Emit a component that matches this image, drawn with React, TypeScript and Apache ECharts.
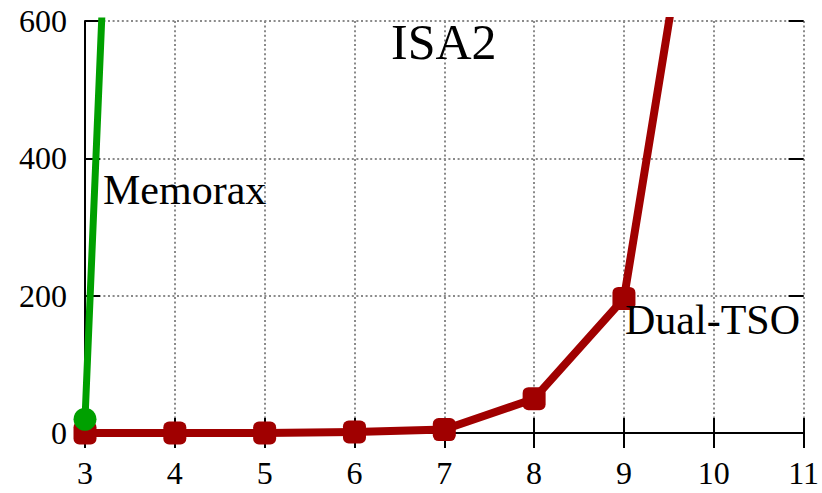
import React, { useEffect, useRef } from "react";
import * as echarts from "echarts";

const xTicks = [3, 4, 5, 6, 7, 8, 9, 10, 11];
const yTicks = [0, 200, 400, 600];
const memoraxX = [3, 4];
const memoraxY = [20, 3150];
const dualX = [3, 4, 5, 6, 7, 8, 9, 10];
const dualY = [0, 0, 0, 1.5, 5, 50, 196, 1000];
const chartTitle = "ISA2";
const memoraxLabel = "Memorax";
const dualLabel = "Dual-TSO";

const FONT = "Liberation Serif";
const RED = "#a00000";
const GREEN = "#00a000";

export default function App() {
  const ref = useRef<HTMLDivElement>(null);
  useEffect(() => {
    if (!ref.current) return;
    const chart = echarts.init(ref.current, undefined, { renderer: "svg" });
    const gridLine = { show: true, lineStyle: { color: "#8a8a8a", width: 2, type: [2, 2.6] as any } };
    const tick = { show: true, inside: true, length: 15, lineStyle: { color: "#000", width: 2 } };
    chart.setOption({
      animation: false,
      grid: { left: 85, right: 16, top: 21, bottom: 60, containLabel: false },
      xAxis: [
        {
          type: "value",
          min: xTicks[0],
          max: xTicks[xTicks.length - 1],
          interval: 1,
          axisLine: { show: true, lineStyle: { color: "#000", width: 2 } },
          axisTick: tick,
          splitLine: gridLine,
          axisLabel: { color: "#000", fontFamily: FONT, fontSize: 32, margin: 24 },
        },
        {
          type: "value",
          position: "top",
          min: xTicks[0],
          max: xTicks[xTicks.length - 1],
          interval: 1,
          axisLine: { show: false },
          axisTick: tick,
          splitLine: { show: false },
          axisLabel: { show: false },
        },
      ],
      yAxis: [
        {
          type: "value",
          min: yTicks[0],
          max: yTicks[yTicks.length - 1],
          interval: 200,
          axisLine: { show: true, lineStyle: { color: "#000", width: 2 } },
          axisTick: tick,
          splitLine: gridLine,
          axisLabel: { color: "#000", fontFamily: FONT, fontSize: 32, margin: 18 },
        },
        {
          type: "value",
          position: "right",
          min: yTicks[0],
          max: yTicks[yTicks.length - 1],
          interval: 200,
          axisLine: { show: false },
          axisTick: tick,
          splitLine: { show: false },
          axisLabel: { show: false },
        },
      ],
      series: [
        {
          type: "line",
          name: dualLabel,
          data: dualX.map((x, i) => [x, dualY[i]]),
          clip: true,
          symbol: "roundRect",
          symbolSize: 23,
          showAllSymbol: true,
          itemStyle: { color: RED },
          lineStyle: { color: RED, width: 8, cap: "round", join: "round" },
          z: 3,
        },
        {
          type: "line",
          name: memoraxLabel,
          data: memoraxX.map((x, i) => [x, memoraxY[i]]),
          clip: true,
          symbol: "circle",
          symbolSize: 23,
          showAllSymbol: true,
          itemStyle: { color: GREEN },
          lineStyle: { color: GREEN, width: 7, cap: "round", join: "round" },
          z: 4,
        },
      ],
      graphic: [
        {
          type: "text",
          left: 391,
          top: 17,
          style: { text: chartTitle, fontFamily: FONT, fontSize: 50, fill: "#000" },
          z: 10,
        },
        {
          type: "text",
          left: 103,
          top: 169,
          style: { text: memoraxLabel, fontFamily: FONT, fontSize: 42, fill: "#000" },
          z: 10,
        },
        {
          type: "text",
          left: 625,
          top: 299,
          style: { text: dualLabel, fontFamily: FONT, fontSize: 42, fill: "#000" },
          z: 10,
        },
      ],
    });
    return () => chart.dispose();
  }, []);
  return (
    <>
      <style>{`#isa2chart text { font-family: "Liberation Serif", serif !important; }`}</style>
      <div
        id="isa2chart"
        ref={ref}
        style={{ position: "fixed", left: 0, top: 0, width: 822, height: 493, background: "#fff" }}
      />
    </>
  );
}
